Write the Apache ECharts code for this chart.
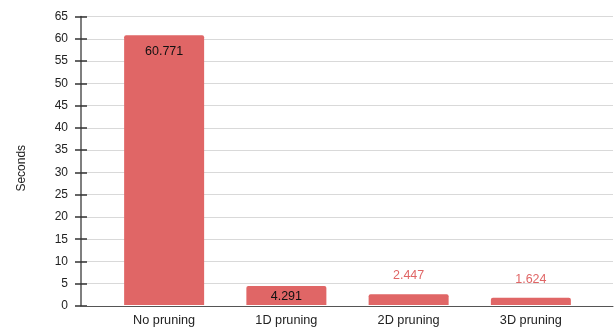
<!DOCTYPE html>
<html><head><meta charset="utf-8">
<script src="https://cdn.jsdelivr.net/npm/echarts@6/dist/echarts.min.js"></script>
<style>html,body{margin:0;padding:0;background:#fff}#c{width:615px;height:327px}</style>
</head><body><div id="c"></div>
<script>
const categories = ['No pruning', '1D pruning', '2D pruning', '3D pruning'];
const seconds = [60.771, 4.291, 2.447, 1.624];
const labelInside = [true, true, false, false];
const yMin = 0, yMax = 65, yStep = 5;

const chart = echarts.init(document.getElementById('c'));
const font = '"Liberation Sans", Arial, sans-serif';
chart.setOption({
  animation: false,
  grid: [
    {left: 81, right: 2, top: 16.5, bottom: 21},
    {left: 103, right: 23, top: 16.5, bottom: 21}
  ],
  xAxis: [
    {type: 'category', gridIndex: 0, data: [''], axisLine: {lineStyle: {color: '#555', width: 1}}, axisTick: {show: false}, axisLabel: {show: false}, z: 5},
    {type: 'category', gridIndex: 1, data: categories, axisLine: {show: false}, axisTick: {show: false},
     axisLabel: {color: '#222', fontFamily: font, fontSize: 12.7, margin: 9}}
  ],
  yAxis: [
    {type: 'value', gridIndex: 0, min: yMin, max: yMax, interval: yStep,
     name: 'Seconds', nameLocation: 'middle', nameGap: 53, nameRotate: 90,
     nameTextStyle: {color: '#222', fontFamily: font, fontSize: 12, padding: [0, 14, 0, 0]},
     axisLine: {show: true, lineStyle: {color: '#555', width: 1.5}},
     axisTick: {show: true, length: 6, lineStyle: {color: '#333', width: 1.5}},
     axisLabel: {color: '#222', fontFamily: font, fontSize: 12, margin: 13},
     splitLine: {show: true, lineStyle: {color: '#d9d9d9', width: 1}}},
    {type: 'value', gridIndex: 0, min: yMin, max: yMax, interval: yStep, position: 'left',
     axisLine: {show: false}, axisLabel: {show: false}, splitLine: {show: false},
     axisTick: {show: true, inside: true, length: 6, lineStyle: {color: '#333', width: 1.5}}},
    {type: 'value', gridIndex: 1, min: yMin, max: yMax, interval: yStep, show: false}
  ],
  series: [{
    type: 'bar', xAxisIndex: 1, yAxisIndex: 2, barWidth: 80,
    itemStyle: {color: '#e06666', borderRadius: [2, 2, 0, 0]},
    data: seconds.map((v, i) => ({
      value: v,
      label: labelInside[i]
        ? {show: true, position: 'insideTop', distance: i === 0 ? 10 : 4, color: '#111', fontFamily: font, fontSize: 12.5}
        : {show: true, position: 'top', distance: 12, color: '#e06666', fontFamily: font, fontSize: 12.5}
    })),
    label: {formatter: p => p.value.toFixed(3)}
  }]
});
</script></body></html>
